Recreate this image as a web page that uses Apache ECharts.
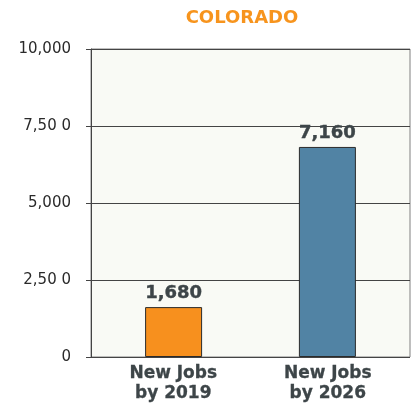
<!DOCTYPE html>
<html><head><meta charset="utf-8">
<script src="https://cdn.jsdelivr.net/npm/echarts@6/dist/echarts.min.js"></script>
<style>html,body{margin:0;padding:0;background:#fff}#c{width:417px;height:407px}</style>
</head><body><div id="c"></div>
<script>
const categories = ['New Jobs\nby 2019', 'New Jobs\nby 2026'];
const barValues = [1620, 6820];
const valueLabels = ['1,680', '7,160'];
const barColors = ['#f7901e', '#5183a4'];
const tickLabels = {0: '0', 2500: '2,50 0', 5000: '5,000', 7500: '7,50 0', 10000: '10,000'};
const titleText = 'COLORADO';

const labelStyle = {
  show: true, position: 'top', distance: 5,
  color: '#3d4548', fontSize: 18, fontWeight: 'bold', fontFamily: 'DejaVu Sans',
  textBorderColor: '#3d4548', textBorderWidth: 0.4,
  formatter: p => valueLabels[p.dataIndex]
};
function seriesFor(idx, gap) {
  return {
    type: 'bar', barWidth: 57, barGap: gap,
    data: barValues.map((v, i) => i === idx ? ({
      value: v,
      itemStyle: {color: barColors[i], borderColor: '#2b2b2b', borderWidth: 1}
    }) : null),
    label: labelStyle
  };
}
const catRich = {
  color: '#3d4548', fontSize: 17, fontWeight: 'bold', fontFamily: 'DejaVu Sans',
  textBorderColor: '#3d4548', textBorderWidth: 0.3, lineHeight: 20
};

const chart = echarts.init(document.getElementById('c'), null, {renderer: 'canvas'});
chart.setOption({
  animation: false,
  title: {
    text: titleText, left: 237, top: 4, textAlign: 'center',
    textStyle: {color: '#f7941d', fontSize: 18, fontWeight: 'bold', fontFamily: 'DejaVu Sans'}
  },
  grid: {
    left: 91, right: 7, top: 49, bottom: 50, show: true,
    backgroundColor: '#f9faf5', borderColor: '#808080', borderWidth: 1
  },
  xAxis: {
    type: 'category', data: categories,
    axisLine: {show: false}, axisTick: {show: false},
    axisLabel: {
      margin: 7, lineHeight: 20,
      formatter: (v, i) => v.split('\n').map(s => (i === 0 ? '{a|' : '{b|') + s + '}').join('\n'),
      rich: {
        a: Object.assign({padding: [0, 0, 0, 5]}, catRich),
        b: Object.assign({padding: [0, 5, 0, 0]}, catRich)
      }
    }
  },
  yAxis: {
    type: 'value', min: 0, max: 10000, interval: 2500,
    axisLine: {show: true, lineStyle: {color: '#444'}},
    axisTick: {show: true, length: 5, lineStyle: {color: '#444'}},
    splitLine: {show: true, lineStyle: {color: '#444', width: 1}},
    axisLabel: {
      color: '#2a2a2a', fontSize: 15, fontFamily: 'DejaVu Sans', margin: 20,
      formatter: v => tickLabels[v] !== undefined ? tickLabels[v] : ''
    }
  },
  series: [seriesFor(1, '-90%'), seriesFor(0, '-90%')]
});
</script></body></html>
